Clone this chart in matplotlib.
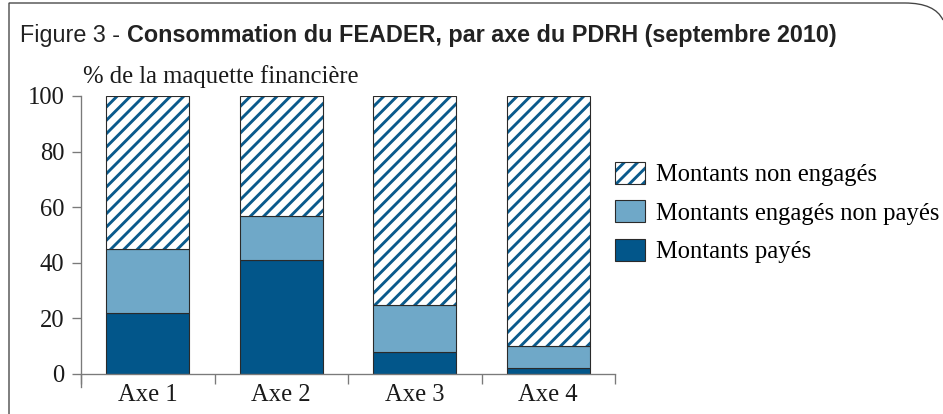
#!/usr/bin/env python3
"""Figure 3 - Consommation du FEADER, par axe du PDRH (septembre 2010)."""
import matplotlib
matplotlib.use("Agg")
import matplotlib.pyplot as plt
from matplotlib.patches import Patch, PathPatch
from matplotlib.path import Path
import numpy as np

# values in % of the financial model
AXES = ["Axe 1", "Axe 2", "Axe 3", "Axe 4"]
PAYES = [22, 41, 8, 2]
ENGAGES_NON_PAYES = [23, 16, 17, 8]
NON_ENGAGES = [55, 43, 75, 90]

DARK = "#02568a"
LIGHT = "#6fa8c8"
HATCH = "#0a5a8c"
EDGE = "#2a2a2a"
GREY = "#7a7a7a"

DPI = 80
W, H = 943, 414
FS = 22.2
SERIF = ["Liberation Serif", "DejaVu Serif"]
NARROW = ["Liberation Sans Narrow", "Liberation Sans", "DejaVu Sans"]

plt.rcParams["font.family"] = SERIF
plt.rcParams["hatch.linewidth"] = 2.6
plt.rcParams["hatch.color"] = HATCH

fig = plt.figure(figsize=(W / DPI, H / DPI), dpi=DPI)
ax = fig.add_axes([81 / W, 1 - 374 / H, (615 - 81) / W, (374 - 96) / H])

x = np.arange(len(AXES))
payes = np.array(PAYES)
eng = np.array(ENGAGES_NON_PAYES)
non = np.array(NON_ENGAGES)
bw = 0.62

ax.bar(x, payes, bw, color=DARK, edgecolor=EDGE, lw=1.0, zorder=2)
ax.bar(x, eng, bw, bottom=payes, color=LIGHT, edgecolor=EDGE, lw=1.0, zorder=2)
ax.bar(x, non, bw, bottom=payes + eng, color="white", edgecolor=HATCH, hatch="//", lw=0, zorder=2)
ax.bar(x, non, bw, bottom=payes + eng, fill=False, edgecolor=EDGE, lw=1.0, zorder=3)

ax.set_xlim(-0.5, len(AXES) - 0.5)
ax.set_ylim(0, 100)
ax.set_yticks([0, 20, 40, 60, 80, 100])
ax.set_xticks(x, AXES)
ax.set_xticks(np.arange(len(AXES) + 1) - 0.5, minor=True)
ax.tick_params(axis="x", which="major", length=0, pad=9, labelsize=FS, colors="#1a1a1a")
ax.tick_params(axis="x", which="minor", length=9, width=1.2, color=GREY)
ax.tick_params(axis="y", length=8, width=1.2, color=GREY, pad=7, labelsize=FS, labelcolor="#1a1a1a")
for s in ("top", "right"):
    ax.spines[s].set_visible(False)
for s in ("left", "bottom"):
    ax.spines[s].set_color(GREY)
    ax.spines[s].set_linewidth(1.2)
ax.spines["left"].set_bounds(-4.7, 100)

ax.text(0.003, 1.03, "% de la maquette financière", transform=ax.transAxes,
        fontsize=FS, color="#1a1a1a", va="bottom")

handles = [
    (Patch(facecolor="white", edgecolor=HATCH, hatch="//", lw=0), Patch(fill=False, edgecolor=EDGE, lw=1.0)),
    Patch(facecolor=LIGHT, edgecolor=EDGE, lw=1.0),
    Patch(facecolor=DARK, edgecolor=EDGE, lw=1.0),
]
labels = ["Montants non engagés", "Montants engagés non payés", "Montants payés"]
fig.legend(handles, labels, loc="upper left", bbox_to_anchor=(615 / W, 1 - 162 / H),
           frameon=False, borderpad=0, borderaxespad=0, fontsize=FS,
           handlelength=1.22, handleheight=1.0, handletextpad=0.44, labelspacing=0.56)

# title
t1 = fig.text(20 / W, 1 - 42 / H, "Figure 3 - ", family=NARROW, fontsize=21, color="#222222")
fig.canvas.draw()
bb = t1.get_window_extent()
fig.text(bb.x1 / W, 1 - 42 / H, "Consommation du FEADER, par axe du PDRH (septembre 2010)",
         family=NARROW, fontsize=21, fontweight="bold", color="#222222")

# frame with rounded top-right corner
verts = [(9, 414), (9, 3), (905, 3), (935, 3), (943, 20)]
codes = [Path.MOVETO, Path.LINETO, Path.LINETO, Path.CURVE3, Path.CURVE3]
fpath = Path([(vx / W, 1 - vy / H) for vx, vy in verts], codes)
fig.patches.append(PathPatch(fpath, fill=False, edgecolor="#444444", lw=1.2,
                             transform=fig.transFigure, figure=fig))

fig.savefig("out.png", dpi=DPI)
